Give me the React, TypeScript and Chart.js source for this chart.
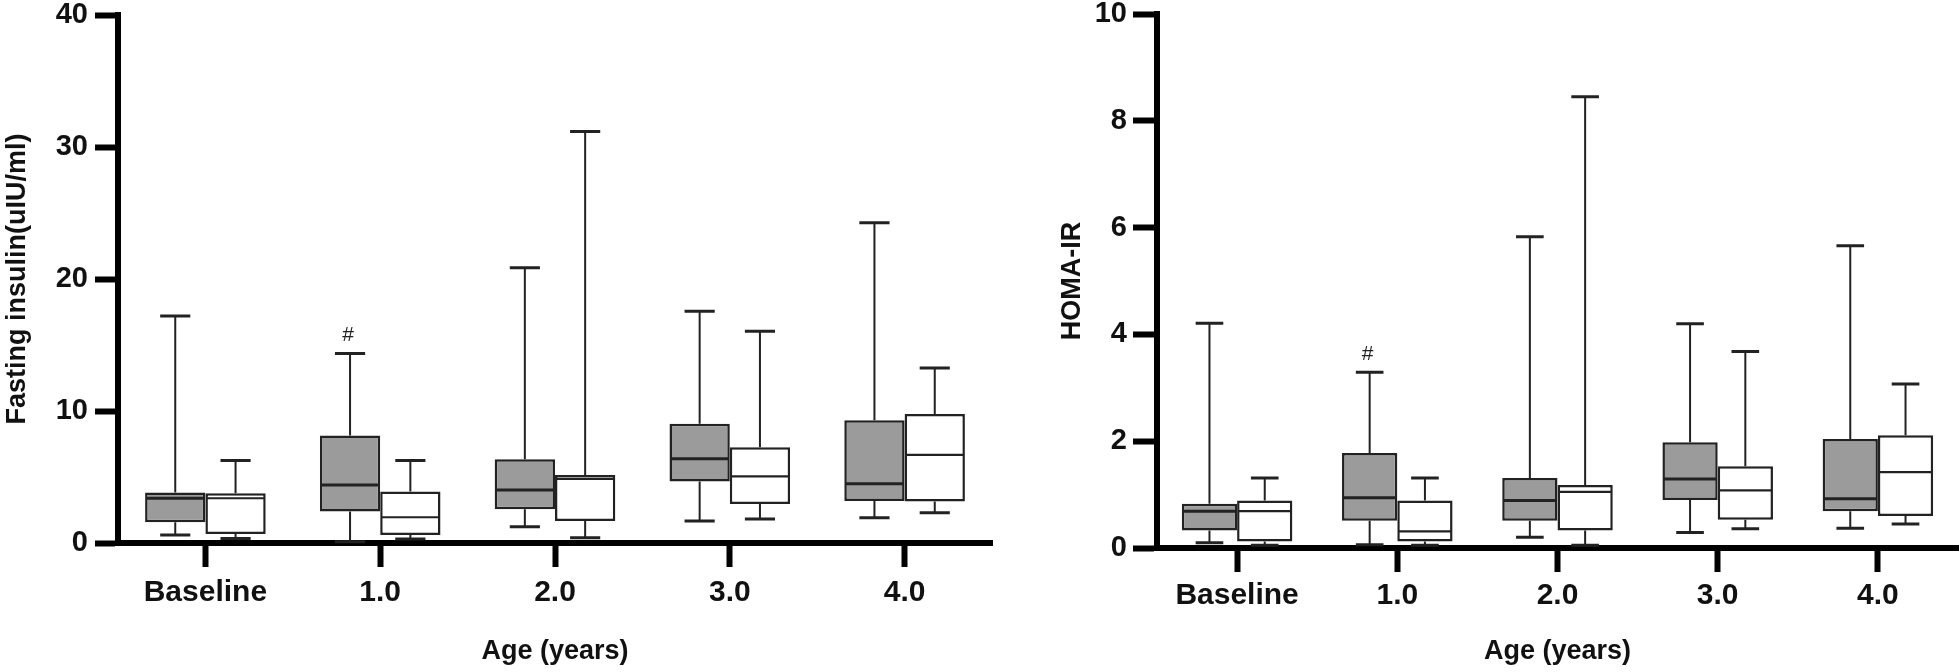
import React, { useEffect, useRef } from "react";
import { Chart, registerables } from "chart.js";

Chart.register(...registerables);

const categories = ["Baseline", "1.0", "2.0", "3.0", "4.0"];

// Fasting insulin (uIU/ml) — grey group
const insulinGreyMin = [0.6, 0.1, 1.24, 1.67, 1.92];
const insulinGreyQ1 = [1.57, 2.38, 2.56, 4.66, 3.19];
const insulinGreyMedian = [3.39, 4.4, 4.02, 6.38, 4.48];
const insulinGreyQ3 = [3.82, 8.15, 6.35, 9.04, 9.29];
const insulinGreyMax = [17.2, 14.35, 20.86, 17.56, 24.27];

// Fasting insulin (uIU/ml) — white group
const insulinWhiteMin = [0.35, 0.3, 0.4, 1.82, 2.3];
const insulinWhiteQ1 = [0.68, 0.6, 1.67, 2.96, 3.14];
const insulinWhiteMedian = [3.39, 1.95, 4.86, 5.04, 6.68];
const insulinWhiteQ3 = [3.77, 3.9, 5.16, 7.26, 9.77];
const insulinWhiteMax = [6.25, 6.25, 31.18, 16.05, 13.26];

// HOMA-IR — grey group
const homaGreyMin = [0.1, 0.06, 0.2, 0.29, 0.37];
const homaGreyQ1 = [0.33, 0.51, 0.51, 0.9, 0.69];
const homaGreyMedian = [0.69, 0.94, 0.89, 1.29, 0.92];
const homaGreyQ3 = [0.83, 1.78, 1.31, 1.98, 2.04];
const homaGreyMax = [4.21, 3.29, 5.83, 4.2, 5.66];

// HOMA-IR — white group
const homaWhiteMin = [0.05, 0.05, 0.05, 0.36, 0.45];
const homaWhiteQ1 = [0.12, 0.12, 0.33, 0.53, 0.6];
const homaWhiteMedian = [0.69, 0.31, 1.05, 1.08, 1.42];
const homaWhiteQ3 = [0.89, 0.89, 1.18, 1.53, 2.11];
const homaWhiteMax = [1.31, 1.31, 8.45, 3.68, 3.07];

const greyMarks = ["", "#", "", "", ""];

const insulinTicks = [0, 10, 20, 30, 40];
const homaTicks = [0, 2, 4, 6, 8, 10];

const FONT = "'Liberation Sans', Arial, Helvetica, sans-serif";
const GREY = "#9b9b9b";
const EDGE = "#222222";

type Series = { min: number[]; q1: number[]; median: number[]; q3: number[]; max: number[] };

function makeBoxPlugin(series: Series[], marks: string[]) {
  return {
    id: "boxWhiskers",
    beforeDatasetsDraw(chart: any) {
      const ctx = chart.ctx;
      const ys = chart.scales.y;
      series.forEach((s, di) => {
        const meta = chart.getDatasetMeta(di);
        meta.data.forEach((bar: any, j: number) => {
          const x = bar.x;
          const w = bar.width;
          const capHalf = w / 4;
          const pMax = ys.getPixelForValue(s.max[j]);
          const pMin = ys.getPixelForValue(s.min[j]);
          const pQ3 = ys.getPixelForValue(s.q3[j]);
          const pQ1 = ys.getPixelForValue(s.q1[j]);
          ctx.save();
          ctx.strokeStyle = EDGE;
          ctx.lineWidth = 2;
          ctx.beginPath();
          ctx.moveTo(x, pQ3);
          ctx.lineTo(x, pMax);
          ctx.moveTo(x, pQ1);
          ctx.lineTo(x, pMin);
          ctx.stroke();
          ctx.lineWidth = 3;
          ctx.beginPath();
          ctx.moveTo(x - capHalf, pMax);
          ctx.lineTo(x + capHalf, pMax);
          ctx.moveTo(x - capHalf, pMin);
          ctx.lineTo(x + capHalf, pMin);
          ctx.stroke();
          ctx.restore();
        });
      });
    },
    afterDatasetsDraw(chart: any) {
      const ctx = chart.ctx;
      const ys = chart.scales.y;
      series.forEach((s, di) => {
        const meta = chart.getDatasetMeta(di);
        meta.data.forEach((bar: any, j: number) => {
          const x = bar.x;
          const w = bar.width;
          const pMed = ys.getPixelForValue(s.median[j]);
          ctx.save();
          ctx.strokeStyle = EDGE;
          ctx.lineWidth = di === 0 ? 3 : 2.2;
          ctx.beginPath();
          ctx.moveTo(x - w / 2 + 1, pMed);
          ctx.lineTo(x + w / 2 - 1, pMed);
          ctx.stroke();
          if (di === 0 && marks[j]) {
            ctx.fillStyle = "#222";
            ctx.font = `21px ${FONT}`;
            ctx.textAlign = "center";
            ctx.textBaseline = "middle";
            ctx.fillText(marks[j], x - 2, ys.getPixelForValue(s.max[j]) - 18);
          }
          ctx.restore();
        });
      });
    },
  };
}

type Cfg = {
  left: number;
  width: number;
  grey: Series;
  white: Series;
  ticks: number[];
  yTitle: string;
  yWidth: number;
  yTitlePad: number;
  yTickLen: number;
  yTickPad: number;
  top: number;
  xHeight: number;
  xTickPad: number;
  rightPad: number;
};

function BoxChart({ cfg }: { cfg: Cfg }) {
  const ref = useRef<HTMLCanvasElement | null>(null);
  useEffect(() => {
    if (!ref.current) return;
    const series = [cfg.grey, cfg.white];
    const chart = new Chart(ref.current, {
      type: "bar",
      data: {
        labels: categories,
        datasets: [
          {
            label: "grey",
            data: cfg.grey.q1.map((v, i) => [v, cfg.grey.q3[i]]) as any,
            backgroundColor: GREY,
            borderColor: EDGE,
            borderWidth: 2.5,
            borderSkipped: false,
          },
          {
            label: "white",
            data: cfg.white.q1.map((v, i) => [v, cfg.white.q3[i]]) as any,
            backgroundColor: "#ffffff",
            borderColor: EDGE,
            borderWidth: 2.5,
            borderSkipped: false,
          },
        ],
      },
      options: {
        animation: false,
        responsive: false,
        devicePixelRatio: 1,
        layout: { padding: { left: 0, right: cfg.rightPad, top: cfg.top, bottom: 0 } },
        datasets: { bar: { categoryPercentage: 0.69, barPercentage: 1.0 } },
        plugins: { legend: { display: false }, tooltip: { enabled: false } },
        scales: {
          x: {
            type: "category",
            offset: true,
            grid: {
              offset: false,
              drawOnChartArea: false,
              drawTicks: true,
              tickLength: 24,
              tickWidth: 6,
              tickColor: "#000",
            },
            border: { display: true, color: "#000", width: 6 },
            ticks: {
              color: "#111",
              padding: cfg.xTickPad,
              maxRotation: 0,
              font: { family: FONT, size: 30, weight: "bold" },
            },
            title: {
              display: true,
              text: "Age (years)",
              color: "#111",
              padding: { top: 0, bottom: 4 },
              font: { family: FONT, size: 27, weight: "bold" },
            },
            afterFit: (scale: any) => {
              scale.height = cfg.xHeight;
              scale.paddingLeft = 0;
              scale.paddingRight = 0;
            },
          },
          y: {
            type: "linear",
            min: cfg.ticks[0],
            max: cfg.ticks[cfg.ticks.length - 1],
            afterBuildTicks: (scale: any) => {
              scale.ticks = cfg.ticks.map((v) => ({ value: v }));
            },
            grid: {
              drawOnChartArea: false,
              drawTicks: true,
              tickLength: cfg.yTickLen,
              tickWidth: 6,
              tickColor: "#000",
            },
            border: { display: true, color: "#000", width: 6 },
            ticks: {
              color: "#111",
              padding: cfg.yTickPad,
              font: { family: FONT, size: 29, weight: "bold" },
              callback: (v: any) => String(v),
            },
            title: {
              display: true,
              text: cfg.yTitle,
              color: "#111",
              padding: { top: cfg.yTitlePad, bottom: 0 },
              font: { family: FONT, size: 27, weight: "bold" },
            },
            afterFit: (scale: any) => {
              scale.width = cfg.yWidth;
              scale.paddingTop = 0;
              scale.paddingBottom = 0;
            },
          },
        },
      },
      plugins: [makeBoxPlugin(series, greyMarks)],
    } as any);
    return () => chart.destroy();
  }, []);
  return (
    <canvas
      ref={ref}
      width={cfg.width}
      height={672}
      style={{ position: "absolute", left: cfg.left, top: 0, width: cfg.width, height: 672 }}
    />
  );
}

const leftCfg: Cfg = {
  left: 0,
  width: 1000,
  grey: { min: insulinGreyMin, q1: insulinGreyQ1, median: insulinGreyMedian, q3: insulinGreyQ3, max: insulinGreyMax },
  white: { min: insulinWhiteMin, q1: insulinWhiteQ1, median: insulinWhiteMedian, q3: insulinWhiteQ3, max: insulinWhiteMax },
  ticks: insulinTicks,
  yTitle: "Fasting insulin(uIU/ml)",
  yWidth: 118,
  yTitlePad: 1,
  yTickLen: 23,
  yTickPad: 7,
  top: 15,
  xHeight: 129,
  xTickPad: 8,
  rightPad: 8,
};

const rightCfg: Cfg = {
  left: 1040,
  width: 920,
  grey: { min: homaGreyMin, q1: homaGreyQ1, median: homaGreyMedian, q3: homaGreyQ3, max: homaGreyMax },
  white: { min: homaWhiteMin, q1: homaWhiteQ1, median: homaWhiteMedian, q3: homaWhiteQ3, max: homaWhiteMax },
  ticks: homaTicks,
  yTitle: "HOMA-IR",
  yWidth: 117,
  yTitlePad: 16,
  yTickLen: 24,
  yTickPad: 6,
  top: 14,
  xHeight: 124,
  xTickPad: 6,
  rightPad: 2,
};

export default function App() {
  return (
    <div style={{ position: "fixed", left: 0, top: 0, width: 1960, height: 672, background: "#fff" }}>
      <BoxChart cfg={leftCfg} />
      <BoxChart cfg={rightCfg} />
    </div>
  );
}
